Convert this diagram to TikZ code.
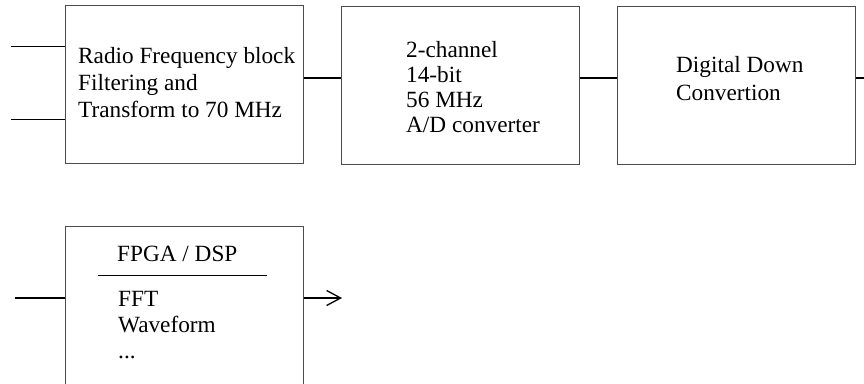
\documentclass[tikz,border=0pt]{standalone}
\usepackage{fontspec}
\setmainfont{Liberation Serif}
\usetikzlibrary{arrows.meta}
\begin{document}
\begin{tikzpicture}[x=1pt,y=-1pt,
  blockbox/.style={draw=black!70,line width=1pt,inner sep=0pt,minimum width=238,minimum height=158},
  blocktext/.style={anchor=north west,inner sep=0pt,align=left,font=\fontsize{23.25}{27}\selectfont},
  wire/.style={line width=1.3pt}]
  \clip (0,0) rectangle (864,383);
  % first row of blocks
  \node[blockbox] (rf) at (184,84) {};
  \node[blockbox] (adc) at (460,85) {};
  \node[blockbox] (ddc) at (736,85) {};
  \node[blocktext] (rftext) at (78,47) {Radio Frequency block\\Filtering and\\Transform to 70 MHz};
  \node[blocktext,font=\fontsize{23.25}{25}\selectfont] (adctext) at (406,41) {2-channel\\14-bit\\56 MHz\\A/D converter};
  \node[blocktext,font=\fontsize{23.25}{28}\selectfont] (ddctext) at (676,56) {Digital Down\\Convertion};
  % processing block, open at the bottom
  \node[blockbox,minimum height=194] (fpga) at (184,323) {};
  \node[blocktext] (fpgatitle) at (117,246) {FPGA / DSP};
  \draw[line width=1pt] (98,275) -- (267,275);
  \node[blocktext,font=\fontsize{23.25}{26}\selectfont] (fpgatext) at (118,291) {FFT\\Waveform\\...};
  % connections
  \coordinate (in1) at (11,46);
  \coordinate (in2) at (11,119);
  \coordinate (out) at (864,78);
  \draw[line width=1pt] (in1) -- (in1 -| rf.west);
  \draw[line width=1pt] (in2) -- (in2 -| rf.west);
  \draw[wire] (rf.east |- out) -- (adc.west |- out);
  \draw[wire] (adc.east |- out) -- (ddc.west |- out);
  \draw[wire] (ddc.east |- out) -- (out);
  \coordinate (fin) at (15,298);
  \coordinate (fout) at (342,298);
  \draw[wire] (fin) -- (fin -| fpga.west);
  \draw[wire,-{Straight Barb[length=14pt,width=15pt]}] (fin -| fpga.east) -- (fout);
\end{tikzpicture}
\end{document}
